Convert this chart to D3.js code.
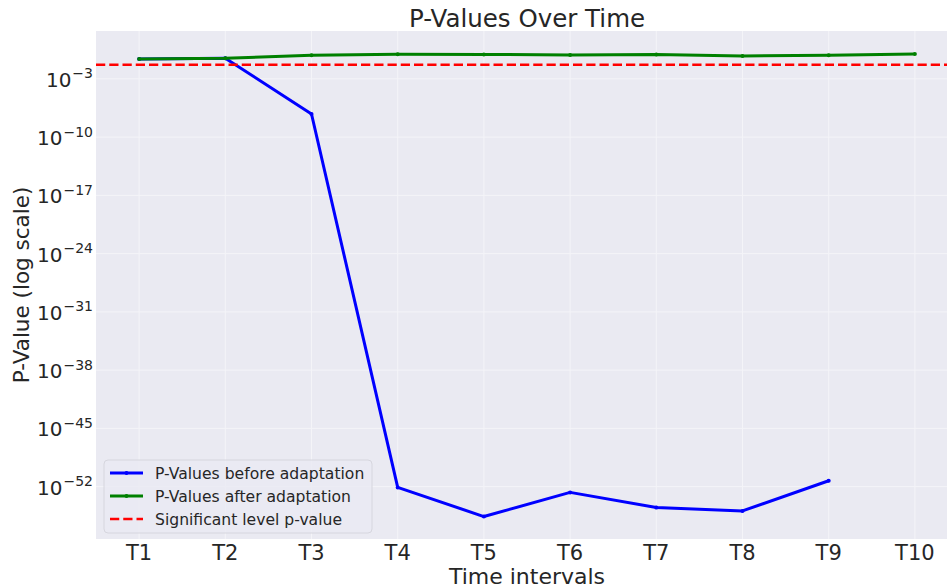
<!DOCTYPE html>
<html>
<head>
<meta charset="utf-8">
<script src="https://cdn.jsdelivr.net/npm/d3@7"></script>
<style>
  body { margin: 0; background: #fff; }
  text { font-family: "DejaVu Sans", sans-serif; fill: #262626; }
</style>
</head>
<body>
<script>
// data
var intervals = ["T1", "T2", "T3", "T4", "T5", "T6", "T7", "T8", "T9", "T10"];
var pBefore = [0.25, 0.3, 6e-8, 8e-53, 2.5e-56, 2e-53, 3e-55, 1.2e-55, 5e-52, null];
var pAfter = [0.25, 0.3, 0.7, 0.9, 0.85, 0.75, 0.85, 0.55, 0.7, 0.95];
var significance = 0.05;
var yTickExps = [-3, -10, -17, -24, -31, -38, -45, -52];
var legendLabels = ["P-Values before adaptation", "P-Values after adaptation", "Significant level p-value"];

var width = 947, height = 587;
var plotL = 96, plotR = 958, plotT = 31, plotB = 539;

var svg = d3.select("body").append("svg")
  .attr("width", width)
  .attr("height", height);

var x = d3.scalePoint()
  .domain(intervals)
  .range([plotL, plotR])
  .padding(0.5);

var y = d3.scaleLog()
  .domain([Math.pow(10, -58.3), Math.pow(10, 2.75)])
  .range([plotB, plotT]);

// plot background
svg.append("rect")
  .attr("x", plotL)
  .attr("y", plotT)
  .attr("width", plotR - plotL)
  .attr("height", plotB - plotT)
  .attr("fill", "#eaeaf2");

// grid
svg.append("g")
  .selectAll("line")
  .data(intervals)
  .join("line")
  .attr("x1", d => x(d)).attr("x2", d => x(d))
  .attr("y1", plotT).attr("y2", plotB)
  .attr("stroke", "#f4f4f8")
  .attr("stroke-width", 1);

svg.append("g")
  .selectAll("line")
  .data(yTickExps)
  .join("line")
  .attr("x1", plotL).attr("x2", plotR)
  .attr("y1", d => y(Math.pow(10, d))).attr("y2", d => y(Math.pow(10, d)))
  .attr("stroke", "#f4f4f8")
  .attr("stroke-width", 1);

// x tick labels
svg.append("g")
  .selectAll("text")
  .data(intervals)
  .join("text")
  .attr("x", d => x(d))
  .attr("y", 560)
  .attr("text-anchor", "middle")
  .attr("font-size", 21)
  .text(d => d);

// y tick labels
var yt = svg.append("g")
  .selectAll("text")
  .data(yTickExps)
  .join("text")
  .attr("x", 93)
  .attr("y", d => y(Math.pow(10, d)) + 8)
  .attr("text-anchor", "end")
  .attr("font-size", 20);
yt.append("tspan").text("10");
yt.append("tspan")
  .attr("dy", -8.5)
  .attr("dx", 1)
  .attr("font-size", 14)
  .text(d => "\u2212" + Math.abs(d));

// lines
var line = d3.line()
  .defined(d => d != null)
  .x((d, i) => x(intervals[i]))
  .y(d => y(d));

var series = [
  { values: pBefore, color: "#0000ff", width: 3 },
  { values: pAfter, color: "#008000", width: 3 }
];

series.forEach(function(s) {
  svg.append("path")
    .datum(s.values)
    .attr("d", line)
    .attr("fill", "none")
    .attr("stroke", s.color)
    .attr("stroke-width", s.width)
    .attr("stroke-linejoin", "round");
  svg.append("g")
    .selectAll("circle")
    .data(s.values.map((v, i) => ({ v: v, t: intervals[i] })).filter(d => d.v != null))
    .join("circle")
    .attr("cx", d => x(d.t))
    .attr("cy", d => y(d.v))
    .attr("r", 2)
    .attr("fill", s.color);
});

// significance line
svg.append("line")
  .attr("x1", plotL).attr("x2", plotR)
  .attr("y1", y(significance)).attr("y2", y(significance))
  .attr("stroke", "#ff0000")
  .attr("stroke-width", 2.5)
  .attr("stroke-dasharray", "9.25,4");

// title and axis labels
svg.append("text")
  .attr("x", (plotL + plotR) / 2)
  .attr("y", 27)
  .attr("text-anchor", "middle")
  .attr("font-size", 24.5)
  .text("P-Values Over Time");

svg.append("text")
  .attr("x", (plotL + plotR) / 2)
  .attr("y", 584)
  .attr("text-anchor", "middle")
  .attr("font-size", 22)
  .text("Time intervals");

svg.append("text")
  .attr("transform", "translate(29," + ((plotT + plotB) / 2) + ") rotate(-90)")
  .attr("text-anchor", "middle")
  .attr("font-size", 21.5)
  .text("P-Value (log scale)");

// legend
var legend = svg.append("g");
legend.append("rect")
  .attr("x", 104).attr("y", 460)
  .attr("width", 268).attr("height", 73)
  .attr("rx", 4)
  .attr("fill", "#eaeaf2")
  .attr("fill-opacity", 0.8)
  .attr("stroke", "#d6d6de");

var legendStyles = [
  { color: "#0000ff", dash: null, marker: true },
  { color: "#008000", dash: null, marker: true },
  { color: "#ff0000", dash: "9.25,4", marker: false }
];

legendLabels.forEach(function(label, i) {
  var ly = 473 + i * 23;
  var st = legendStyles[i];
  legend.append("line")
    .attr("x1", 110).attr("x2", 143)
    .attr("y1", ly).attr("y2", ly)
    .attr("stroke", st.color)
    .attr("stroke-width", i == 2 ? 2.5 : 3)
    .attr("stroke-dasharray", st.dash);
  if (st.marker) {
    legend.append("circle")
      .attr("cx", 126.5).attr("cy", ly).attr("r", 2)
      .attr("fill", st.color);
  }
  legend.append("text")
    .attr("x", 155)
    .attr("y", ly + 5.5)
    .attr("font-size", 15.6)
    .text(label);
});
</script>
</body>
</html>
